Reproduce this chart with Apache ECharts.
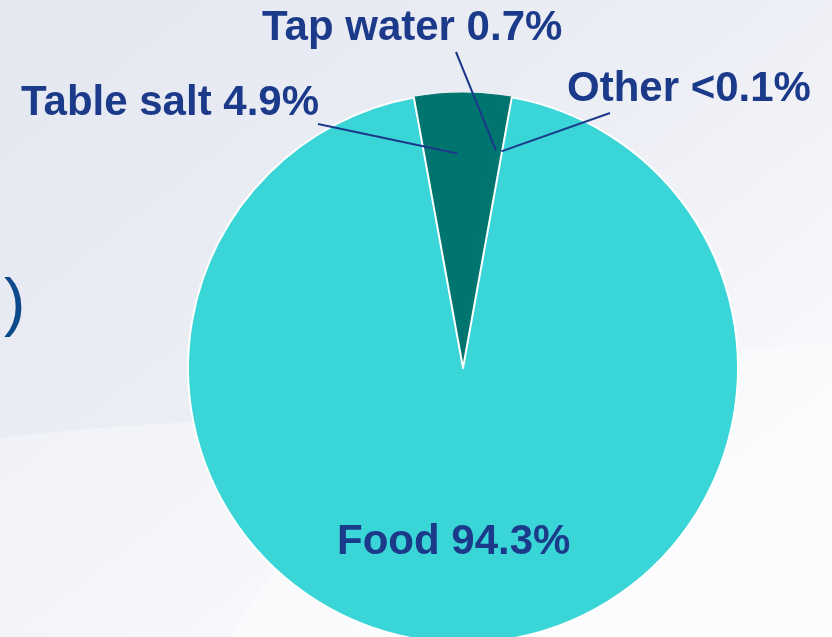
<!DOCTYPE html>
<html>
<head>
<meta charset="utf-8">
<script src="https://cdn.jsdelivr.net/npm/echarts@6/dist/echarts.min.js"></script>
<style>
html,body{margin:0;padding:0;}
#chart{width:832px;height:637px;}
</style>
</head>
<body>
<div id="chart"></div>
<script>
// ---- data ----
const categories = ['Table salt', 'Tap water', 'Other', 'Food'];
const values = [4.9, 0.7, 0.1, 94.3];
const valueLabels = ['4.9%', '0.7%', '<0.1%', '94.3%'];

// ---- layout / style ----
const CENTER = [463, 368];
const RADIUS = 275;
const START = 100.3;
const DARK = '#00756f';
const LIGHT = '#3ad5d6';
const TEXT = '#1b3a8a';
const labelPlace = [
  { x: 21, y: 103, anchor: [318, 124], k: 0.78 },
  { x: 262, y: 28, anchor: [456, 52], k: 0.80 },
  { x: 567, y: 89, anchor: [610, 113], k: 0.80 },
  { x: 337, y: 542 }
];

const chart = echarts.init(document.getElementById('chart'), null, { renderer: 'canvas' });

const baseData = categories.map((c, i) => ({
  name: c,
  value: values[i],
  itemStyle: i === 3
    ? { color: LIGHT, borderColor: '#ffffff', borderWidth: 2 }
    : { color: DARK, borderColor: DARK, borderWidth: 1.2 }
}));

const overlayData = categories.map((c, i) => ({
  name: c,
  value: values[i],
  itemStyle: { color: 'rgba(0,0,0,0)', borderWidth: 0 },
  labelLine: { show: i !== 3 }
}));

chart.setOption({
  backgroundColor: {
    type: 'linear', x: 0, y: 0, x2: 0.6, y2: 1,
    colorStops: [
      { offset: 0, color: '#e3e7f0' },
      { offset: 0.55, color: '#eceef5' },
      { offset: 1, color: '#f8f9fc' }
    ]
  },
  graphic: [
    {
      type: 'ellipse', z: -10,
      shape: { cx: 300, cy: 900, rx: 1100, ry: 480 },
      style: { fill: 'rgba(255,255,255,0.35)' }
    },
    {
      type: 'ellipse', z: -10,
      shape: { cx: 900, cy: 760, rx: 700, ry: 420 },
      style: { fill: 'rgba(255,255,255,0.35)' }
    },
    {
      type: 'text', left: 4, top: 274,
      style: { text: ')', fill: '#0d4a8c', font: '64px "Liberation Sans", Arial, sans-serif' }
    }
  ],
  series: [
    {
      type: 'pie',
      z: 2,
      center: CENTER,
      radius: RADIUS,
      startAngle: START,
      clockwise: true,
      animation: false,
      silent: true,
      data: baseData,
      label: { show: false },
      labelLine: { show: false }
    },
    {
      type: 'pie',
      z: 5,
      center: CENTER,
      radius: RADIUS,
      startAngle: START,
      clockwise: true,
      avoidLabelOverlap: false,
      animation: false,
      silent: true,
      data: overlayData,
      label: {
        show: true,
        position: 'outside',
        formatter: p => categories[p.dataIndex] + ' ' + valueLabels[p.dataIndex],
        color: TEXT,
        fontFamily: '"Liberation Sans", Arial, sans-serif',
        fontWeight: 'bold',
        fontSize: 42
      },
      labelLine: {
        show: true,
        length: 10,
        length2: 10,
        lineStyle: { color: TEXT, width: 2 }
      },
      labelLayout: function (params) {
        const p = labelPlace[params.dataIndex];
        const res = { x: p.x, y: p.y, align: 'left', verticalAlign: 'middle' };
        if (p.anchor && params.labelLinePoints) {
          const p0 = params.labelLinePoints[0];
          const inner = [CENTER[0] + (p0[0] - CENTER[0]) * p.k, CENTER[1] + (p0[1] - CENTER[1]) * p.k];
          res.labelLinePoints = [inner, p.anchor.slice(), p.anchor.slice()];
        }
        return res;
      }
    }
  ]
});
</script>
</body>
</html>
